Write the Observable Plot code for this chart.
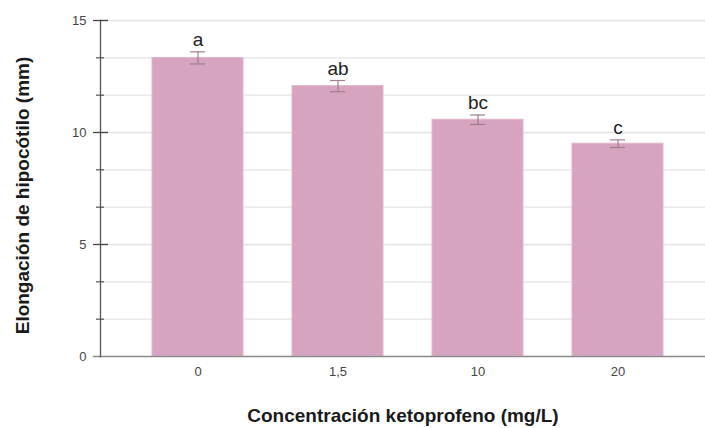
<!DOCTYPE html>
<html>
<head>
<meta charset="utf-8">
<script src="https://cdn.jsdelivr.net/npm/d3@7"></script>
<script src="https://cdn.jsdelivr.net/npm/@observablehq/plot@0.6"></script>
<style>
  html, body { margin: 0; padding: 0; background: #fff; }
  #chart svg { display: block; }
</style>
</head>
<body>
<div id="chart"></div>
<script>
// Hypocotyl elongation under ketoprofen treatment (mean ± SE)
const concentraciones = ["0", "1,5", "10", "20"];
const medias = [13.33, 12.07, 10.57, 9.5];
const errores = [0.27, 0.25, 0.21, 0.17];
const letras = ["a", "ab", "bc", "c"];
const yTicksMayores = [0, 5, 10, 15];
const yTicksMenores = d3.range(1, 10).map(i => i * 5 / 3);

const datos = concentraciones.map((c, i) => ({
  conc: c, media: medias[i], se: errores[i], letra: letras[i]
}));

const anchoMarco = 705 - 100;

const chart = Plot.plot({
  width: 705,
  height: 428,
  marginLeft: 100,
  marginRight: 0,
  marginTop: 20,
  marginBottom: 72,
  style: { fontFamily: "'Liberation Sans', Arial, sans-serif", background: "#fff" },
  x: { type: "band", domain: concentraciones, paddingInner: 0.35, paddingOuter: 0.335, align: 0.55, axis: null },
  y: { domain: [0, 15], axis: null },
  marks: [
    // horizontal grid
    Plot.ruleY(yTicksMenores, { stroke: "#e4e4e4", strokeWidth: 1.3 }),
    // bars
    Plot.barY(datos, { x: "conc", y: "media", fill: "#d6a4bf", stroke: "#e0b6cb", strokeWidth: 1 }),
    // error bars
    Plot.ruleX(datos, { x: "conc", y1: d => d.media - d.se, y2: d => d.media + d.se, stroke: "#9d7f90", strokeWidth: 1.2 }),
    Plot.tickY(datos, { x: "conc", y: d => d.media + d.se, stroke: "#9d7f90", strokeWidth: 1.2, insetLeft: 38, insetRight: 38 }),
    Plot.tickY(datos, { x: "conc", y: d => d.media - d.se, stroke: "#9d7f90", strokeWidth: 1.2, insetLeft: 38, insetRight: 38 }),
    // significance letters
    Plot.text(datos, { x: "conc", y: d => d.media + d.se, text: "letra", lineAnchor: "bottom", dy: -6, fontSize: 19, fill: "#222" }),
    // x axis line
    Plot.ruleY([0], { stroke: "#8a8a8a", strokeWidth: 1.6, insetLeft: -7 }),
    // y axis line
    Plot.frame({ anchor: "left", stroke: "#555", strokeWidth: 1.3 }),
    // y tick marks
    Plot.ruleY(yTicksMayores.filter(v => v > 0), { stroke: "#444", strokeWidth: 1.3, insetRight: anchoMarco - 15, dx: -7 }),
    Plot.ruleY(yTicksMenores.filter(v => v % 5 > 0.01 && v % 5 < 4.99), { stroke: "#444", strokeWidth: 1.1, insetRight: anchoMarco - 8, dx: -4 }),
    // tick labels
    Plot.axisY(yTicksMayores, { tickSize: 0, tickPadding: 14, fontSize: 13, color: "#444", label: null }),
    Plot.axisX({ tickSize: 0, tickPadding: 10, fontSize: 13, color: "#444", label: null }),
    // axis titles
    Plot.text(["Concentración ketoprofeno (mg/L)"], { frameAnchor: "bottom", dy: 59, lineAnchor: "middle", fontSize: 19, fontWeight: "bold", fill: "#1a1a1a" }),
    Plot.text(["Elongación de hipocótilo (mm)"], { frameAnchor: "left", textAnchor: "middle", dx: -78, dy: 7, rotate: -90, lineAnchor: "middle", fontSize: 19, fontWeight: "bold", fill: "#1a1a1a" })
  ]
});

document.getElementById("chart").appendChild(chart);
</script>
</body>
</html>
